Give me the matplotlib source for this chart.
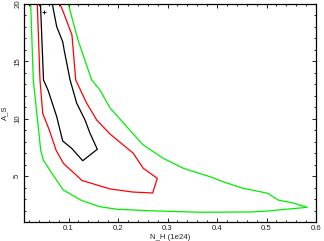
import matplotlib
matplotlib.use("Agg")
import matplotlib.pyplot as plt
from matplotlib.ticker import MultipleLocator

plt.rcParams['font.family'] = ['Liberation Sans', 'DejaVu Sans']

# 99% contour (green)
green_nh = [0.0235, 0.0288, 0.0437, 0.049, 0.066, 0.0894, 0.1266, 0.1636, 0.198, 0.2646,
            0.3656, 0.4666, 0.503, 0.5824, 0.5535, 0.523, 0.503, 0.4525, 0.412, 0.3858,
            0.3319, 0.2915, 0.251, 0.2175, 0.1838, 0.1636, 0.1468, 0.1191, 0.0995]
green_as = [20.0, 13.38, 7.27, 6.40, 5.27, 3.79, 2.87, 2.33, 2.11, 1.98,
            1.85, 1.87, 1.96, 2.28, 2.66, 2.92, 3.50, 3.94, 4.51, 4.95,
            5.68, 6.55, 7.71, 9.31, 10.94, 12.50, 13.38, 16.86, 20.0]

# 90% contour (red)
red_nh = [0.0369, 0.0423, 0.0478, 0.0611, 0.0747, 0.0894, 0.1272, 0.1838, 0.2302, 0.27,
          0.2793, 0.251, 0.2308, 0.1838, 0.1569, 0.1367, 0.1145, 0.1069, 0.0894, 0.0827]
red_as = [20.0, 13.38, 10.47, 9.02, 7.27, 6.12, 4.62, 3.88, 3.61, 3.53,
          4.81, 5.68, 6.99, 8.67, 9.89, 11.35, 13.38, 17.3, 19.30, 20.0]

# 68% contour (black)
black_nh = [0.0433, 0.0494, 0.0585, 0.0761, 0.0882, 0.1064, 0.1286, 0.1581, 0.1434, 0.1333,
            0.1165, 0.1031, 0.0913, 0.0882, 0.0761, 0.0672]
black_as = [20.0, 13.38, 12.50, 10.18, 8.06, 7.42, 6.34, 7.34, 8.73, 9.89,
            11.35, 13.38, 15.95, 16.71, 18.02, 20.0]

best_nh = [0.0514]
best_as = [19.27]

fig = plt.figure(figsize=(3.24, 2.41), dpi=100)
ax = fig.add_axes([24/324, 19/241, 292/324, 218/241])

ax.plot(green_nh, green_as, color='#00ee00', lw=0.9)
ax.plot(red_nh, red_as, color='#ff0000', lw=0.9)
ax.plot(black_nh, black_as, color='#000000', lw=0.9)
ax.plot(best_nh, best_as, marker='+', color='black', ms=3.5, mew=0.6, ls='none')

ax.set_xlim(0.01, 0.6)
ax.set_ylim(1, 20)
ax.xaxis.set_major_locator(MultipleLocator(0.1))
ax.xaxis.set_minor_locator(MultipleLocator(0.02))
ax.yaxis.set_major_locator(MultipleLocator(5))
ax.yaxis.set_minor_locator(MultipleLocator(1))
ax.tick_params(which='both', direction='in', top=True, right=True, width=0.7,
               labelsize=5.6, pad=2, colors='#222222')
ax.tick_params(which='major', length=3)
ax.tick_params(which='minor', length=1.5)
for lab in ax.get_yticklabels():
    lab.set_rotation(90)
    lab.set_va('center')
for s in ax.spines.values():
    s.set_linewidth(0.9)

ax.set_xlabel('N_H (1e24)', fontsize=5.6, labelpad=1.5, color='#222222')
ax.set_ylabel('A_S', fontsize=5.6, labelpad=4.5, color='#222222')

fig.savefig('out.png', dpi=100)
